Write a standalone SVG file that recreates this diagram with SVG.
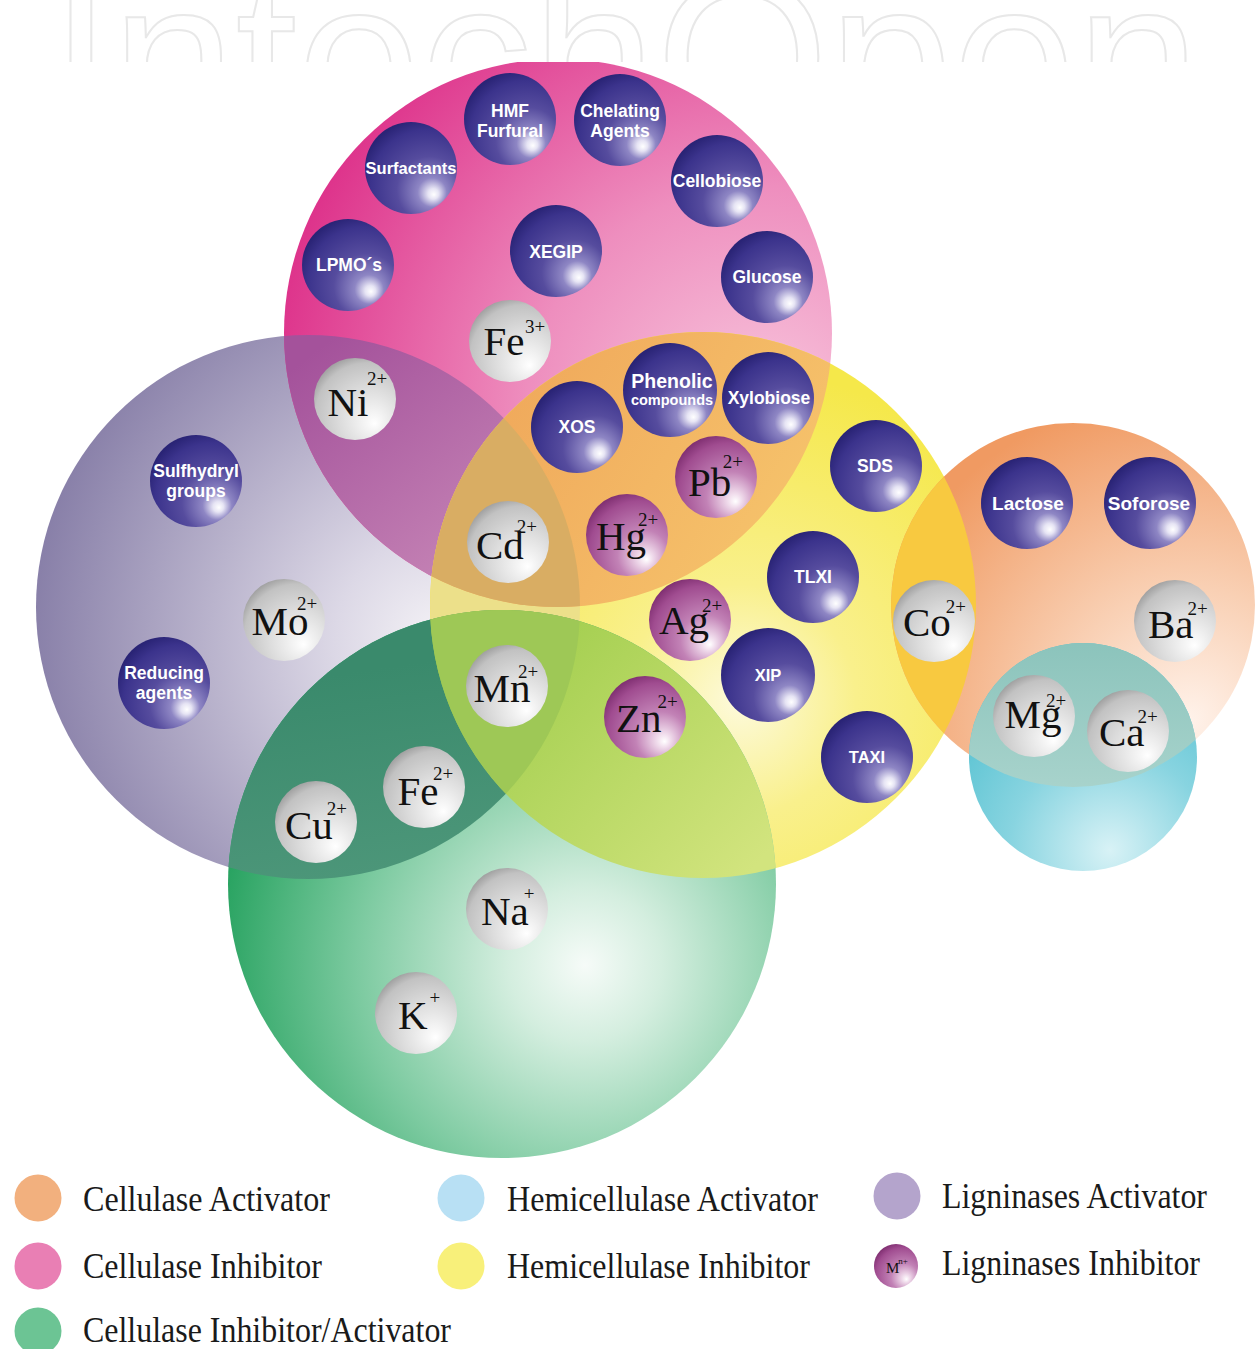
<svg xmlns="http://www.w3.org/2000/svg" width="1257" height="1349" viewBox="0 0 1257 1349">
<style>
.nl{font-family:"Liberation Sans",Arial,sans-serif;font-weight:bold;font-size:17.5px;fill:#ffffff;text-anchor:middle}
.el{font-family:"Liberation Serif","Times New Roman",serif;font-size:41px;fill:#111111}
.sp{font-size:19px}
.lg{font-family:"Liberation Serif","Times New Roman",serif;font-size:36px;fill:#1a1a1a}
.wm{font-family:"Liberation Sans",Arial,sans-serif;font-size:220px;fill:none;stroke:#e8e8e8;stroke-width:2}
</style>
<defs>
<radialGradient id="gNavy" cx="0.66" cy="0.68" r="0.72" fx="0.75" fy="0.79">
<stop offset="0" stop-color="#ffffff"/><stop offset="0.08" stop-color="#e6e4f4"/><stop offset="0.22" stop-color="#8e86c4"/><stop offset="0.5" stop-color="#564c9e"/><stop offset="0.85" stop-color="#3b338c"/><stop offset="1" stop-color="#2a2476"/>
</radialGradient>
<radialGradient id="gGray" cx="0.64" cy="0.68" r="0.75" fx="0.74" fy="0.8">
<stop offset="0" stop-color="#ffffff"/><stop offset="0.12" stop-color="#f6f6f6"/><stop offset="0.5" stop-color="#dcdcdc"/><stop offset="0.85" stop-color="#c2c2c2"/><stop offset="1" stop-color="#9a9a9a"/>
</radialGradient>
<radialGradient id="gMag" cx="0.64" cy="0.68" r="0.75" fx="0.74" fy="0.8">
<stop offset="0" stop-color="#ffffff"/><stop offset="0.1" stop-color="#f2e0ee"/><stop offset="0.42" stop-color="#c282b6"/><stop offset="0.82" stop-color="#a04c90"/><stop offset="1" stop-color="#7a2a6c"/>
</radialGradient>
<radialGradient id="gPink" gradientUnits="userSpaceOnUse" cx="760" cy="420" r="520">
<stop offset="0" stop-color="#f8c8de"/><stop offset="0.45" stop-color="#ee8ebe"/><stop offset="1" stop-color="#dc2a86"/>
</radialGradient>
<radialGradient id="gPurple" gradientUnits="userSpaceOnUse" cx="440" cy="640" r="420">
<stop offset="0" stop-color="#f4f2f6"/><stop offset="0.25" stop-color="#dcd8e6"/><stop offset="1" stop-color="#857ca6"/>
</radialGradient>
<radialGradient id="gGreen" gradientUnits="userSpaceOnUse" cx="585" cy="965" r="380">
<stop offset="0" stop-color="#f6fbf8"/><stop offset="0.2" stop-color="#d4eedf"/><stop offset="0.6" stop-color="#7ccaa0"/><stop offset="1" stop-color="#22a05c"/>
</radialGradient>
<radialGradient id="gYellow" gradientUnits="userSpaceOnUse" cx="740" cy="700" r="330">
<stop offset="0" stop-color="#fdfadc"/><stop offset="0.35" stop-color="#f9f08c"/><stop offset="1" stop-color="#f5e84a"/>
</radialGradient>
<radialGradient id="gOrange" gradientUnits="userSpaceOnUse" cx="1190" cy="720" r="330">
<stop offset="0" stop-color="#fff2ea"/><stop offset="0.4" stop-color="#f9d0b4"/><stop offset="1" stop-color="#f09a62"/>
</radialGradient>
<radialGradient id="gCyan" gradientUnits="userSpaceOnUse" cx="1110" cy="850" r="200">
<stop offset="0" stop-color="#d8f2f6"/><stop offset="0.5" stop-color="#88d4e0"/><stop offset="1" stop-color="#52c0d0"/>
</radialGradient>
<linearGradient id="gA" gradientUnits="userSpaceOnUse" x1="330" y1="340" x2="500" y2="560">
<stop offset="0" stop-color="#a4529b"/><stop offset="1" stop-color="#c685b6"/>
</linearGradient>
<linearGradient id="gB" gradientUnits="userSpaceOnUse" x1="540" y1="350" x2="820" y2="520">
<stop offset="0" stop-color="#f0aa5c"/><stop offset="1" stop-color="#f6c46c"/>
</linearGradient>
<linearGradient id="gE" gradientUnits="userSpaceOnUse" x1="520" y1="640" x2="760" y2="860">
<stop offset="0" stop-color="#a2ce4e"/><stop offset="1" stop-color="#d2e47e"/>
</linearGradient>
<linearGradient id="gF" gradientUnits="userSpaceOnUse" x1="300" y1="680" x2="330" y2="880">
<stop offset="0" stop-color="#3a8a6c"/><stop offset="1" stop-color="#4c9679"/>
</linearGradient>
<linearGradient id="gI" gradientUnits="userSpaceOnUse" x1="0" y1="645" x2="0" y2="790">
<stop offset="0" stop-color="#8cc4bc"/><stop offset="1" stop-color="#a8d3cc"/>
</linearGradient>
<clipPath id="cPurple"><circle cx="308" cy="607" r="272"/></clipPath>
<clipPath id="cPink"><circle cx="558" cy="333" r="274"/></clipPath>
<clipPath id="cYellow"><circle cx="703" cy="605" r="273"/></clipPath>
<clipPath id="cGreen"><circle cx="502" cy="884" r="274"/></clipPath>
<clipPath id="cOrange"><circle cx="1073" cy="605" r="182"/></clipPath>
<clipPath id="cCyan"><circle cx="1083" cy="757" r="114"/></clipPath>
<clipPath id="cTop"><rect x="0" y="0" width="1257" height="62"/></clipPath>
<clipPath id="cDiag"><rect x="0" y="62" width="1257" height="1287"/></clipPath>
</defs>
<rect x="0" y="0" width="1257" height="1349" fill="#ffffff"/>
<g id="watermark" clip-path="url(#cTop)">
<text class="wm" x="50" y="134" textLength="1150" lengthAdjust="spacingAndGlyphs">IntechOpen</text>
</g>
<g id="regions" clip-path="url(#cDiag)">
<circle id="ligninases-activator" cx="308" cy="607" r="272" fill="url(#gPurple)"/>
<circle id="cellulase-inhibitor" cx="558" cy="333" r="274" fill="url(#gPink)"/>
<circle id="hemicellulase-inhibitor" cx="703" cy="605" r="273" fill="url(#gYellow)"/>
<circle id="cellulase-inh-act" cx="502" cy="884" r="274" fill="url(#gGreen)"/>
<circle id="cellulase-activator" cx="1073" cy="605" r="182" fill="url(#gOrange)"/>
<circle id="hemicellulase-activator" cx="1083" cy="757" r="114" fill="url(#gCyan)"/>
<g clip-path="url(#cPurple)"><circle cx="558" cy="333" r="274" fill="url(#gA)"/></g>
<g clip-path="url(#cPurple)"><circle cx="703" cy="605" r="273" fill="#ece08a"/></g>
<g clip-path="url(#cPink)"><circle cx="703" cy="605" r="273" fill="url(#gB)"/></g>
<g clip-path="url(#cPurple)"><g clip-path="url(#cPink)"><circle cx="703" cy="605" r="273" fill="#d9ad63"/></g></g>
<g clip-path="url(#cPurple)"><circle cx="502" cy="884" r="274" fill="url(#gF)"/></g>
<g clip-path="url(#cYellow)"><circle cx="502" cy="884" r="274" fill="url(#gE)"/></g>
<g clip-path="url(#cPurple)"><g clip-path="url(#cYellow)"><circle cx="502" cy="884" r="274" fill="#9ec856"/></g></g>
<g clip-path="url(#cYellow)"><circle cx="1073" cy="605" r="182" fill="#f8c940"/></g>
<g clip-path="url(#cOrange)"><circle cx="1083" cy="757" r="114" fill="url(#gI)"/></g>
</g>
<g id="connectors"></g>
<g id="navy-nodes">
<g id="n-hmf"><circle cx="510" cy="119" r="46" fill="url(#gNavy)"/><text class="nl" x="510" y="117">HMF<tspan x="510" dy="20">Furfural</tspan></text></g>
<g id="n-chelating"><circle cx="620" cy="120" r="46" fill="url(#gNavy)"/><text class="nl" x="620" y="117">Chelating<tspan x="620" dy="20">Agents</tspan></text></g>
<g id="n-surfactants"><circle cx="411" cy="168" r="46" fill="url(#gNavy)"/><text class="nl" x="411" y="174" style="font-size:16.5px">Surfactants</text></g>
<g id="n-cellobiose"><circle cx="717" cy="181" r="46" fill="url(#gNavy)"/><text class="nl" x="717" y="187">Cellobiose</text></g>
<g id="n-lpmo"><circle cx="348" cy="265" r="46" fill="url(#gNavy)"/><text class="nl" x="349" y="271">LPMO´s</text></g>
<g id="n-xegip"><circle cx="556" cy="251" r="46" fill="url(#gNavy)"/><text class="nl" x="556" y="258">XEGIP</text></g>
<g id="n-glucose"><circle cx="767" cy="277" r="46" fill="url(#gNavy)"/><text class="nl" x="767" y="283">Glucose</text></g>
<g id="n-sulfhydryl"><circle cx="196" cy="481" r="46" fill="url(#gNavy)"/><text class="nl" x="196" y="477">Sulfhydryl<tspan x="196" dy="20">groups</tspan></text></g>
<g id="n-reducing"><circle cx="164" cy="683" r="46" fill="url(#gNavy)"/><text class="nl" x="164" y="679">Reducing<tspan x="164" dy="20">agents</tspan></text></g>
<g id="n-xos"><circle cx="577" cy="427" r="46" fill="url(#gNavy)"/><text class="nl" x="577" y="433">XOS</text></g>
<g id="n-phenolic"><circle cx="670" cy="390" r="47" fill="url(#gNavy)"/><text class="nl" x="672" y="388" style="font-size:19.5px">Phenolic<tspan x="672" dy="17" style="font-size:14.5px">compounds</tspan></text></g>
<g id="n-xylobiose"><circle cx="768" cy="398" r="46" fill="url(#gNavy)"/><text class="nl" x="769" y="404">Xylobiose</text></g>
<g id="n-sds"><circle cx="876" cy="466" r="46" fill="url(#gNavy)"/><text class="nl" x="875" y="472">SDS</text></g>
<g id="n-tlxi"><circle cx="813" cy="577" r="46" fill="url(#gNavy)"/><text class="nl" x="813" y="583">TLXI</text></g>
<g id="n-xip"><circle cx="768" cy="675" r="47" fill="url(#gNavy)"/><text class="nl" x="768" y="681" style="font-size:16.5px">XIP</text></g>
<g id="n-taxi"><circle cx="867" cy="757" r="46" fill="url(#gNavy)"/><text class="nl" x="867" y="763" style="font-size:16.5px">TAXI</text></g>
<g id="n-lactose"><circle cx="1027" cy="503" r="46" fill="url(#gNavy)"/><text class="nl" x="1028" y="510" style="font-size:19px">Lactose</text></g>
<g id="n-soforose"><circle cx="1150" cy="503" r="46" fill="url(#gNavy)"/><text class="nl" x="1149" y="510" style="font-size:19px">Soforose</text></g>
</g>
<g id="ion-nodes">
<g id="i-fe3"><circle cx="510" cy="341" r="41" fill="url(#gGray)"/><text class="el" x="483.5" y="355">Fe<tspan class="sp" dx="0.5" dy="-22">3+</tspan></text></g>
<g id="i-ni"><circle cx="355" cy="399" r="41" fill="url(#gGray)"/><text class="el" x="327.5" y="416">Ni<tspan class="sp" dx="-1.5" dy="-31">2+</tspan></text></g>
<g id="i-mo"><circle cx="284" cy="620" r="41" fill="url(#gGray)"/><text class="el" x="251.5" y="635">Mo<tspan class="sp" dx="-11.5" dy="-25">2+</tspan></text></g>
<g id="i-cd"><circle cx="508" cy="542" r="41" fill="url(#gGray)"/><text class="el" x="476" y="559">Cd<tspan class="sp" dx="-7" dy="-26">2+</tspan></text></g>
<g id="i-mn"><circle cx="507" cy="686" r="41" fill="url(#gGray)"/><text class="el" x="473.5" y="702">Mn<tspan class="sp" dx="-12.5" dy="-24">2+</tspan></text></g>
<g id="i-fe2"><circle cx="424" cy="787" r="41" fill="url(#gGray)"/><text class="el" x="397.5" y="805">Fe<tspan class="sp" dx="-5.5" dy="-25">2+</tspan></text></g>
<g id="i-cu"><circle cx="316" cy="822" r="41" fill="url(#gGray)"/><text class="el" x="285" y="839">Cu<tspan class="sp" dx="-6" dy="-24">2+</tspan></text></g>
<g id="i-na"><circle cx="507" cy="909" r="41" fill="url(#gGray)"/><text class="el" x="481" y="925">Na<tspan class="sp" dx="-5" dy="-25">+</tspan></text></g>
<g id="i-k"><circle cx="416" cy="1013" r="41" fill="url(#gGray)"/><text class="el" x="398" y="1029">K<tspan class="sp" dx="2" dy="-25">+</tspan></text></g>
<g id="i-co"><circle cx="934" cy="621" r="41" fill="url(#gGray)"/><text class="el" x="903" y="636">Co<tspan class="sp" dx="-5" dy="-23">2+</tspan></text></g>
<g id="i-ba"><circle cx="1175" cy="621" r="41" fill="url(#gGray)"/><text class="el" x="1148" y="638">Ba<tspan class="sp" dx="-6" dy="-23">2+</tspan></text></g>
<g id="i-mg"><circle cx="1034" cy="716" r="41" fill="url(#gGray)"/><text class="el" x="1004.5" y="728">Mg<tspan class="sp" dx="-15.5" dy="-21">2+</tspan></text></g>
<g id="i-ca"><circle cx="1128" cy="731" r="41" fill="url(#gGray)"/><text class="el" x="1099" y="746">Ca<tspan class="sp" dx="-7" dy="-23">2+</tspan></text></g>
<g id="i-pb"><circle cx="716" cy="477" r="41" fill="url(#gMag)"/><text class="el" x="688" y="496">Pb<tspan class="sp" dx="-8.5" dy="-28">2+</tspan></text></g>
<g id="i-hg"><circle cx="627" cy="535" r="41" fill="url(#gMag)"/><text class="el" x="596" y="550">Hg<tspan class="sp" dx="-8" dy="-24">2+</tspan></text></g>
<g id="i-ag"><circle cx="690" cy="620" r="41" fill="url(#gMag)"/><text class="el" x="659" y="634">Ag<tspan class="sp" dx="-7" dy="-22">2+</tspan></text></g>
<g id="i-zn"><circle cx="645" cy="717" r="41" fill="url(#gMag)"/><text class="el" x="616" y="732">Zn<tspan class="sp" dx="-4" dy="-24">2+</tspan></text></g>
</g>
<g id="legend">
<g id="lg-ca"><circle cx="38" cy="1198" r="23.5" fill="#f2b07e"/><text class="lg" x="83" y="1211" textLength="247" lengthAdjust="spacingAndGlyphs">Cellulase Activator</text></g>
<g id="lg-ci"><circle cx="38" cy="1266" r="23.5" fill="#e97fb4"/><text class="lg" x="83" y="1278" textLength="239" lengthAdjust="spacingAndGlyphs">Cellulase Inhibitor</text></g>
<g id="lg-cia"><circle cx="38" cy="1331" r="23.5" fill="#6cc494"/><text class="lg" x="83" y="1342" textLength="368" lengthAdjust="spacingAndGlyphs">Cellulase Inhibitor/Activator</text></g>
<g id="lg-ha"><circle cx="461" cy="1198" r="23.5" fill="#b8e0f4"/><text class="lg" x="507" y="1211" textLength="311" lengthAdjust="spacingAndGlyphs">Hemicellulase Activator</text></g>
<g id="lg-hi"><circle cx="461" cy="1266" r="23.5" fill="#f8f07a"/><text class="lg" x="507" y="1278" textLength="303" lengthAdjust="spacingAndGlyphs">Hemicellulase Inhibitor</text></g>
<g id="lg-la"><circle cx="897" cy="1196" r="23.5" fill="#b4a4cc"/><text class="lg" x="942" y="1208" textLength="265" lengthAdjust="spacingAndGlyphs">Ligninases Activator</text></g>
<g id="lg-li"><circle cx="896" cy="1266" r="22" fill="url(#gMag)"/><text x="886" y="1273" style="font-family:'Liberation Serif',serif;font-size:15px;fill:#111">M<tspan dx="-1" dy="-9" style="font-size:9px">n+</tspan></text><text class="lg" x="942" y="1275" textLength="258" lengthAdjust="spacingAndGlyphs">Ligninases Inhibitor</text></g>
</g>
</svg>
